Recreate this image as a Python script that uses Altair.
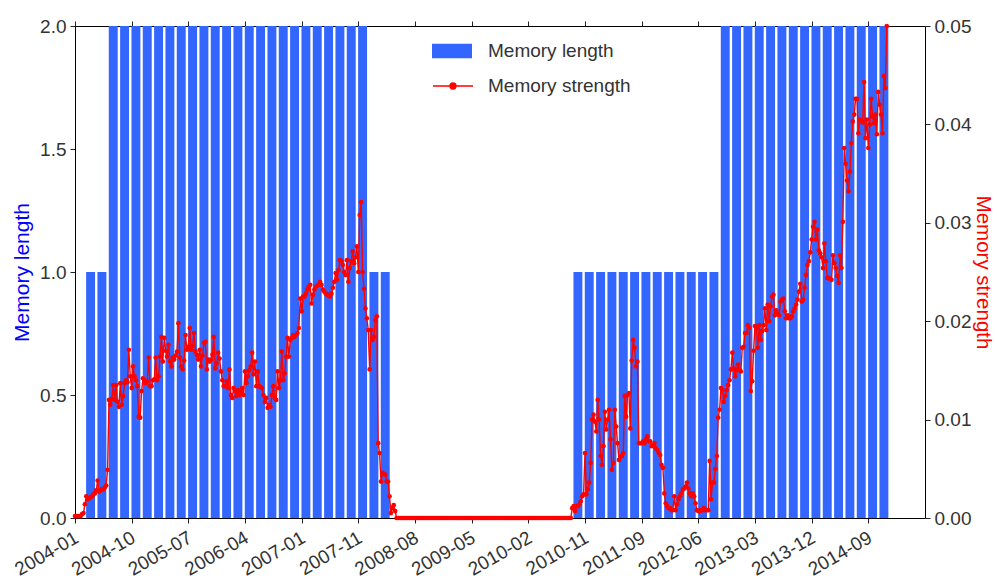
import altair as alt
import pandas as pd

# ---------------- data ----------------
tick_weeks = [0, 40, 80, 120, 160, 200, 240, 280, 320, 360, 400, 440, 480, 520, 560]
tick_labels = ["2004-01", "2004-10", "2005-07", "2006-04", "2007-01", "2007-11",
               "2008-08", "2009-05", "2010-02", "2010-11", "2011-09", "2012-06",
               "2013-03", "2013-12", "2014-09"]

# memory length, one bar per 8-week window
length_values = [1, 1,
                 2, 2, 2, 2, 2, 2, 2, 2, 2, 2, 2, 2, 2, 2, 2, 2, 2, 2, 2, 2, 2, 2, 2,
                 1, 1,
                 0, 0, 0, 0, 0, 0, 0, 0, 0, 0, 0, 0, 0, 0, 0, 0,
                 1, 1, 1, 1, 1, 1, 1, 1, 1, 1, 1, 1, 1,
                 2, 2, 2, 2, 2, 2, 2, 2, 2, 2, 2, 2, 2, 2, 2]

# memory strength, weekly
strength_2004_2007 = [
    0.0002, 0.0002, 0.0002, 0.0002, 0.0002, 0.0004, 0.0005, 0.0014, 0.0022, 0.0019,
    0.0020, 0.0021, 0.0022, 0.0024, 0.0025, 0.0028, 0.0038, 0.0027, 0.0028, 0.0029,
    0.0029, 0.0031, 0.0033, 0.0049, 0.0120, 0.0115, 0.0121, 0.0135, 0.0120, 0.0135,
    0.0118, 0.0113, 0.0137, 0.0115, 0.0124, 0.0137, 0.0140, 0.0138, 0.0171, 0.0144,
    0.0132, 0.0154, 0.0144, 0.0140, 0.0134, 0.0103, 0.0102, 0.0129, 0.0142, 0.0140,
    0.0137, 0.0139, 0.0163, 0.0134, 0.0134, 0.0140, 0.0141, 0.0163, 0.0140, 0.0144,
    0.0164, 0.0184, 0.0159, 0.0183, 0.0170, 0.0164, 0.0176, 0.0159, 0.0154, 0.0163,
    0.0161, 0.0165, 0.0169, 0.0198, 0.0163, 0.0154, 0.0151, 0.0160, 0.0186, 0.0171,
    0.0174, 0.0193, 0.0171, 0.0175, 0.0188, 0.0169, 0.0166, 0.0161, 0.0171, 0.0154,
    0.0165, 0.0178, 0.0179, 0.0151, 0.0161, 0.0159, 0.0161, 0.0166, 0.0184, 0.0152,
    0.0157, 0.0168, 0.0162, 0.0149, 0.0140, 0.0134, 0.0134, 0.0139, 0.0132, 0.0151,
    0.0125, 0.0122, 0.0132, 0.0129, 0.0124, 0.0130, 0.0125, 0.0128, 0.0132, 0.0125,
    0.0149, 0.0137, 0.0144, 0.0150, 0.0154, 0.0168, 0.0146, 0.0159, 0.0134, 0.0149,
    0.0134, 0.0133, 0.0132, 0.0125, 0.0118, 0.0122, 0.0112, 0.0115, 0.0113, 0.0125,
    0.0134, 0.0122, 0.0120, 0.0149, 0.0132, 0.0140, 0.0169, 0.0140, 0.0147, 0.0164,
    0.0183, 0.0164, 0.0181, 0.0183, 0.0186, 0.0184, 0.0186, 0.0188, 0.0193, 0.0223,
    0.0210, 0.0225, 0.0225, 0.0228, 0.0232, 0.0235, 0.0237, 0.0218, 0.0227, 0.0232,
    0.0235, 0.0236, 0.0237, 0.0240, 0.0237, 0.0232, 0.0230, 0.0228, 0.0227, 0.0226,
    0.0225, 0.0228, 0.0234, 0.0240, 0.0249, 0.0242, 0.0252, 0.0262, 0.0261, 0.0257,
    0.0250, 0.0247, 0.0262, 0.0240, 0.0254, 0.0261, 0.0271, 0.0259, 0.0265, 0.0276,
    0.0250, 0.0308, 0.0321, 0.0250, 0.0233, 0.0213, 0.0203, 0.0191, 0.0151, 0.0191,
    0.0181, 0.0184, 0.0201, 0.0205, 0.0076, 0.0066, 0.0037, 0.0046, 0.0045, 0.0044,
    0.0037, 0.0037, 0.0022, 0.0005, 0.0010, 0.0013, 0.0007,
]

strength_2008_2010 = [
    0.0, 0.0, 0.0, 0.0, 0.0, 0.0, 0.0, 0.0, 0.0, 0.0, 0.0, 0.0, 0.0, 0.0, 0.0, 0.0, 0.0, 0.0, 0.0, 0.0,
    0.0, 0.0, 0.0, 0.0, 0.0, 0.0, 0.0, 0.0, 0.0, 0.0, 0.0, 0.0, 0.0, 0.0, 0.0, 0.0, 0.0, 0.0, 0.0, 0.0,
    0.0, 0.0, 0.0, 0.0, 0.0, 0.0, 0.0, 0.0, 0.0, 0.0, 0.0, 0.0, 0.0, 0.0, 0.0, 0.0, 0.0, 0.0, 0.0, 0.0,
    0.0, 0.0, 0.0, 0.0, 0.0, 0.0, 0.0, 0.0, 0.0, 0.0, 0.0, 0.0, 0.0, 0.0, 0.0, 0.0, 0.0, 0.0, 0.0, 0.0,
    0.0, 0.0, 0.0, 0.0, 0.0, 0.0, 0.0, 0.0, 0.0, 0.0, 0.0, 0.0, 0.0, 0.0, 0.0, 0.0, 0.0, 0.0, 0.0, 0.0,
    0.0, 0.0, 0.0, 0.0, 0.0, 0.0, 0.0, 0.0, 0.0, 0.0, 0.0, 0.0, 0.0, 0.0, 0.0, 0.0, 0.0, 0.0, 0.0, 0.0,
    0.0, 0.0, 0.0, 0.0,
]

strength_2010_2014 = [
    0.0010, 0.0012, 0.0007, 0.0012, 0.0012, 0.0014, 0.0017, 0.0022, 0.0024, 0.0066,
    0.0024, 0.0029, 0.0036, 0.0056, 0.0100, 0.0105, 0.0098, 0.0088, 0.0120, 0.0100,
    0.0063, 0.0054, 0.0073, 0.0108, 0.0090, 0.0100, 0.0110, 0.0080, 0.0049, 0.0056,
    0.0110, 0.0093, 0.0076, 0.0059, 0.0062, 0.0063, 0.0066, 0.0124, 0.0103, 0.0125,
    0.0127, 0.0091, 0.0160, 0.0181, 0.0173, 0.0154, 0.0159, 0.0076, 0.0076, 0.0076,
    0.0078, 0.0076, 0.0080, 0.0083, 0.0078, 0.0078, 0.0073, 0.0074, 0.0076, 0.0071,
    0.0069, 0.0066, 0.0064, 0.0054, 0.0051, 0.0025, 0.0015, 0.0012, 0.0010, 0.0010,
    0.0008, 0.0008, 0.0022, 0.0008, 0.0014, 0.0019, 0.0022, 0.0025, 0.0029, 0.0030,
    0.0032, 0.0036, 0.0030, 0.0025, 0.0022, 0.0025, 0.0022, 0.0015, 0.0008, 0.0007,
    0.0007, 0.0008, 0.0008, 0.0010, 0.0008, 0.0008, 0.0008, 0.0058, 0.0019, 0.0036,
    0.0036, 0.0050, 0.0063, 0.0102, 0.0110, 0.0132, 0.0130, 0.0118, 0.0124, 0.0130,
    0.0135, 0.0140, 0.0151, 0.0168, 0.0152, 0.0144, 0.0150, 0.0156, 0.0151, 0.0149,
    0.0173, 0.0174, 0.0188, 0.0188, 0.0196, 0.0193, 0.0129, 0.0139, 0.0170, 0.0195,
    0.0193, 0.0173, 0.0196, 0.0181, 0.0190, 0.0196, 0.0213, 0.0191, 0.0217, 0.0200,
    0.0215, 0.0225, 0.0227, 0.0206, 0.0211, 0.0208, 0.0206, 0.0220, 0.0222, 0.0223,
    0.0210, 0.0203, 0.0206, 0.0203, 0.0203, 0.0205, 0.0210, 0.0213, 0.0217, 0.0222,
    0.0230, 0.0238, 0.0220, 0.0222, 0.0234, 0.0247, 0.0257, 0.0261, 0.0270, 0.0283,
    0.0296, 0.0301, 0.0283, 0.0293, 0.0272, 0.0269, 0.0265, 0.0254, 0.0279, 0.0261,
    0.0244, 0.0244, 0.0243, 0.0242, 0.0267, 0.0259, 0.0254, 0.0246, 0.0239, 0.0267,
    0.0254, 0.0301, 0.0376, 0.0360, 0.0343, 0.0332, 0.0352, 0.0381, 0.0403, 0.0410,
    0.0426, 0.0426, 0.0391, 0.0405, 0.0404, 0.0402, 0.0443, 0.0386, 0.0405, 0.0376,
    0.0400, 0.0426, 0.0408, 0.0401, 0.0410, 0.0390, 0.0433, 0.0420, 0.0410, 0.0391,
    0.0449, 0.0437, 0.0500,
]

# ---------------- tables ----------------
strength = strength_2004_2007 + strength_2008_2010 + strength_2010_2014
n_weeks = len(strength)
line_df = pd.DataFrame({
    "week": list(range(n_weeks)),
    "strength": strength,
    "series": "Memory strength",
})

bar_center = [11 + 8 * i for i in range(len(length_values))]
bar_df = pd.DataFrame({
    "start": [c - 3.15 for c in bar_center],
    "end": [c + 3.15 for c in bar_center],
    "length": length_values,
    "series": "Memory length",
})

FONT = "Liberation Sans"
TXT = "#333333"
label_js = "[" + ",".join("'%s'" % t for t in tick_labels) + "]"

x_scale = alt.Scale(domain=[0, 600], nice=False, zero=False)

common_axis = dict(
    grid=False, domainColor="#000000", domainWidth=1, tickColor="#222222",
    tickSize=5, tickWidth=1, labelFont=FONT, labelFontSize=19, labelColor=TXT,
    titleFont=FONT, titleFontWeight="normal",
)

bars = alt.Chart(bar_df).mark_bar(strokeWidth=0).encode(
    x=alt.X("start:Q", scale=x_scale,
            axis=alt.Axis(orient="bottom", values=tick_weeks, title=None,
                          labelExpr=label_js + "[round(datum.value / 40)]",
                          labelAngle=330, labelAlign="right", labelBaseline="top",
                          labelPadding=5, labelOffset=-3, labelOverlap=False,
                          labelBound=False, **common_axis)),
    x2="end:Q",
    y=alt.Y("length:Q", scale=alt.Scale(domain=[0, 2], nice=False),
            axis=alt.Axis(orient="left", values=[0, 0.5, 1, 1.5, 2], format=".1f",
                          title="Memory length", titleColor="#0000FF", titleFontSize=21,
                          titlePadding=7, labelPadding=4, **common_axis)),
    y2=alt.datum(0),
    fill=alt.Fill("series:N",
                  scale=alt.Scale(domain=["Memory length"], range=["#3366FF"]),
                  legend=alt.Legend(title=None, orient="none", legendX=357, legendY=5,
                                    symbolType="M-1,-0.36L1,-0.36L1,0.36L-1,0.36Z",
                                    symbolSize=1600, symbolStrokeWidth=0,
                                    labelFont=FONT, labelFontSize=19, labelColor=TXT,
                                    labelOffset=16, padding=0)),
)

line = alt.Chart(line_df).mark_line(
    strokeWidth=1.4,
    point=alt.OverlayMarkDef(filled=True, fill="#FF0000", size=22, strokeWidth=0),
).encode(
    x=alt.X("week:Q", scale=x_scale,
            axis=alt.Axis(orient="top", values=tick_weeks, labels=False, title=None,
                          **common_axis)),
    y=alt.Y("strength:Q", scale=alt.Scale(domain=[0, 0.05], nice=False),
            axis=alt.Axis(orient="right", values=[0, 0.01, 0.02, 0.03, 0.04, 0.05],
                          format=".2f", title="Memory strength", titleColor="#FF0000",
                          titleFontSize=20.5, titlePadding=2, labelPadding=4,
                          **common_axis)),
    stroke=alt.Stroke("series:N",
                      scale=alt.Scale(domain=["Memory strength"], range=["#FF0000"]),
                      legend=alt.Legend(title=None, orient="none", legendX=357, legendY=39,
                                        symbolType="M-1,0L1,0M0.15,0A0.15,0.15,0,1,1,-0.15,0A0.15,0.15,0,1,1,0.15,0Z",
                                        symbolSize=1600, symbolStrokeWidth=1.3,
                                        symbolFillColor="#FF0000",
                                        labelFont=FONT, labelFontSize=19, labelColor=TXT,
                                        labelOffset=14, padding=0)),
)

chart = alt.layer(bars, line).resolve_scale(
    y="independent", fill="independent", stroke="independent"
).resolve_axis(x="independent").properties(
    width=850, height=492,
    padding={"left": 75, "top": 26, "right": 72, "bottom": 63},
    autosize=alt.AutoSizeParams(type="none"),
    background="white",
).configure_view(strokeWidth=0)

chart.save("out.html", embed_options={"renderer": "svg", "actions": False})
